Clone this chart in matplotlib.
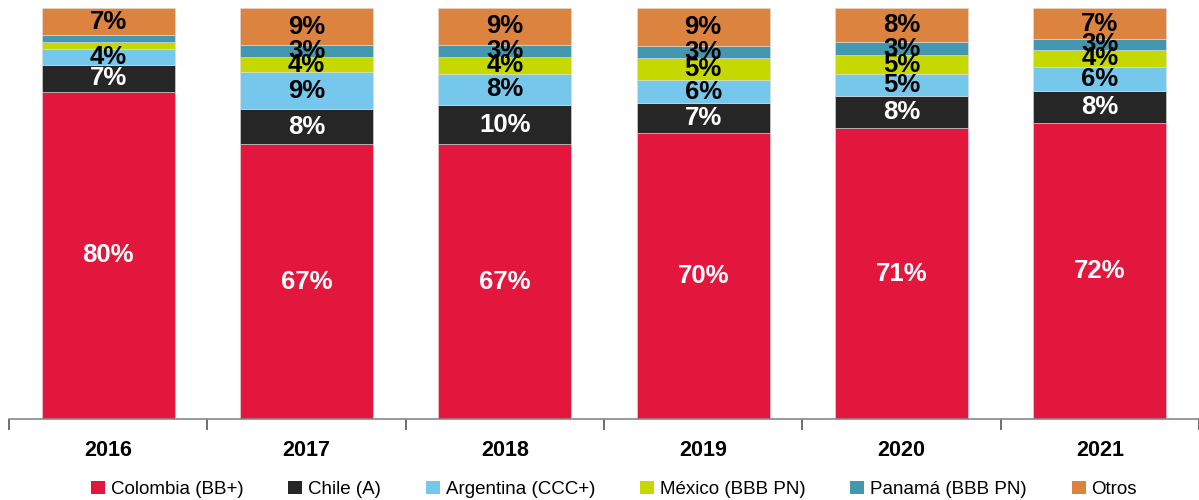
import numpy as np
import matplotlib.pyplot as plt
from matplotlib.patches import Patch

plt.rcParams['font.family'] = ['Liberation Sans', 'DejaVu Sans']

years = ['2016', '2017', '2018', '2019', '2020', '2021']
series = ['Colombia (BB+)', 'Chile (A)', 'Argentina (CCC+)', 'México (BBB PN)', 'Panamá (BBB PN)', 'Otros']
colombia = [79.6, 66.9, 66.8, 69.7, 70.8, 72.0]
chile = [6.6, 8.5, 9.7, 7.1, 7.7, 7.9]
argentina = [3.8, 9.0, 7.5, 5.7, 5.4, 5.7]
mexico = [1.7, 3.7, 4.1, 5.4, 4.6, 4.3]
panama = [1.7, 2.8, 3.0, 2.8, 3.2, 2.6]
otros = [6.6, 9.0, 8.8, 9.3, 8.3, 7.4]

colors = ['#E3173E', '#262626', '#75C8EC', '#C5D800', '#4398B0', '#DC843F']
label_colors = ['white', 'white', 'black', 'black', 'black', 'black']

data = [colombia, chile, argentina, mexico, panama, otros]

fig = plt.figure(figsize=(11.99, 5.0), dpi=100)
ax = fig.add_axes([0.0075, 0.162, 0.9925, 0.822])

x = np.arange(len(years))
bottom = np.zeros(len(years))
for vals, col, lcol in zip(data, colors, label_colors):
    vals = np.array(vals)
    ax.bar(x, vals, 0.67, bottom=bottom, color=col, edgecolor='#dddddd', linewidth=0.4)
    for xi, b, v in zip(x, bottom, vals):
        if v >= 2.0:
            ax.text(xi, b + v / 2, f'{v:.0f}%', ha='center', va='center',
                    fontsize=18.5, fontweight='bold', color=lcol)
    bottom += vals

ax.set_xlim(-0.5, len(years) - 0.5)
ax.set_ylim(0, bottom.max())
ax.set_yticks([])
for s in ['top', 'right', 'left']:
    ax.spines[s].set_visible(False)
ax.spines['bottom'].set_color('#888888')
ax.spines['bottom'].set_linewidth(1.2)

ax.set_xticks(np.arange(len(years) + 1) - 0.5, minor=True)
ax.set_xticks(x)
ax.set_xticklabels(years, fontsize=15.5, fontweight='bold')
ax.tick_params(axis='x', which='major', length=0, pad=15)
ax.tick_params(axis='x', which='minor', length=8, width=1.2, color='#555555')

handles = [Patch(facecolor=c, edgecolor='none') for c in colors]
fig.legend(handles, series, loc='lower center', bbox_to_anchor=(0.512, -0.03), ncol=6,
           frameon=False, fontsize=13.5, handlelength=0.75, handleheight=0.75,
           handletextpad=0.3, columnspacing=2.4)

fig.savefig('out.png', dpi=100)
